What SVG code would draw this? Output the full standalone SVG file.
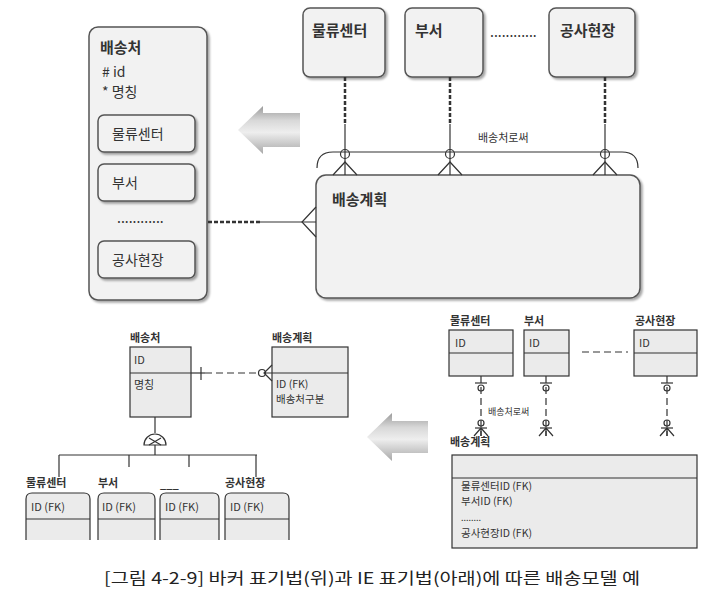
<svg xmlns="http://www.w3.org/2000/svg" width="724" height="593" viewBox="0 0 724 593">
<defs>
<linearGradient id="arr" x1="0" y1="0" x2="0" y2="1">
<stop offset="0" stop-color="#9a9a9a"/>
<stop offset="0.3" stop-color="#d8d8d8"/>
<stop offset="0.55" stop-color="#eeeeee"/>
<stop offset="1" stop-color="#a8a8a8"/>
</linearGradient>
<filter id="sh" x="-10%" y="-10%" width="130%" height="130%">
<feDropShadow dx="2" dy="2" stdDeviation="1.2" flood-color="#000" flood-opacity="0.35"/>
</filter>
<style>
text{font-family:"Noto Sans CJK KR","Noto Sans",sans-serif;fill:#333;}
.bk{fill:#f2f2f2;stroke:#555;stroke-width:1.5;filter:url(#sh);}
.ie{fill:#ebebeb;stroke:#333;stroke-width:1.2;}
.ln{stroke:#333;stroke-width:1.2;fill:none;}
.dl{stroke:#333;stroke-width:2.5;fill:none;stroke-dasharray:4 2;}
.dl2{stroke:#333;stroke-width:1.2;fill:none;stroke-dasharray:7 4;}
.t1{font-size:15px;font-weight:bold;}
.t2{font-size:14px;}
.t3{font-size:11px;}
.t5{font-size:10.5px;}
.t4{font-size:11px;font-weight:bold;}
</style>
</defs>

<!-- Top: Barker notation -->
<g id="barker-baesongcheo">
<rect class="bk" x="89" y="27" width="118" height="273" rx="9"/>
<text class="t1" x="100" y="53">배송처</text>
<text class="t2" x="102" y="77"># id</text>
<text class="t2" x="102" y="97">* 명칭</text>
<rect class="bk" x="98" y="115" width="97" height="37" rx="6"/>
<text class="t2" x="112" y="139">물류센터</text>
<rect class="bk" x="98" y="164" width="97" height="37" rx="6"/>
<text class="t2" x="112" y="188">부서</text>
<text class="t2" x="117" y="223">............</text>
<rect class="bk" x="98" y="241" width="97" height="37" rx="6"/>
<text class="t2" x="112" y="265">공사현장</text>
</g>

<g id="barker-arrow">
<path d="M300,113 L263,113 L263,106 L238,130 L263,154 L263,147 L300,147 Z" fill="url(#arr)"/>
</g>

<g id="barker-mulryu">
<rect class="bk" x="303" y="8" width="82" height="69" rx="7"/>
<text class="t1" x="312" y="36">물류센터</text>
</g>
<g id="barker-buseo">
<rect class="bk" x="405" y="8" width="78" height="69" rx="7"/>
<text class="t1" x="415" y="36">부서</text>
</g>
<text class="t2" x="490" y="37">............</text>
<g id="barker-gongsa">
<rect class="bk" x="549" y="8" width="86" height="69" rx="7"/>
<text class="t1" x="560" y="36">공사현장</text>
</g>

<g id="barker-baesonggyehoek">
<rect class="bk" x="316" y="175" width="324" height="123" rx="10"/>
<text class="t1" x="332" y="205">배송계획</text>
</g>

<g id="barker-connectors">
<line class="dl" x1="208" y1="222" x2="260" y2="222"/>
<line class="ln" x1="260" y1="222" x2="316" y2="222"/>
<path class="ln" d="M316,207 L302,222 L316,237"/>
<path class="ln" d="M317,168 Q317,152 333,152 L622,152 Q638,152 638,168"/>
<text class="t3" x="478" y="142">배송처로써</text>
<line class="dl" x1="345" y1="77" x2="345" y2="124"/>
<line class="ln" x1="345" y1="124" x2="345" y2="175"/>
<circle class="ln" cx="345" cy="154" r="4.5" fill="#fff"/>
<path class="ln" d="M333,175 L345,162 L357,175"/>
<line class="dl" x1="450" y1="77" x2="450" y2="124"/>
<line class="ln" x1="450" y1="124" x2="450" y2="175"/>
<circle class="ln" cx="450" cy="154" r="4.5" fill="#fff"/>
<path class="ln" d="M438,175 L450,162 L462,175"/>
<line class="dl" x1="605" y1="77" x2="605" y2="124"/>
<line class="ln" x1="605" y1="124" x2="605" y2="175"/>
<circle class="ln" cx="605" cy="154" r="4.5" fill="#fff"/>
<path class="ln" d="M593,175 L605,162 L617,175"/>
</g>

<!-- Bottom left: IE -->
<g id="ie-baesongcheo">
<text class="t4" x="130" y="342">배송처</text>
<rect class="ie" x="130" y="347" width="61" height="70"/>
<line class="ln" x1="130" y1="373" x2="191" y2="373"/>
<text class="t3" x="134" y="364">ID</text>
<text class="t3" x="134" y="389">명칭</text>
</g>
<g id="ie-baesonggyehoek-left">
<text class="t4" x="272" y="342">배송계획</text>
<rect class="ie" x="272" y="347" width="76" height="70"/>
<line class="ln" x1="272" y1="373" x2="348" y2="373"/>
<text class="t5" x="276" y="388">ID (FK)</text>
<text class="t5" x="276" y="403">배송처구분</text>
</g>
<g id="ie-left-connectors">
<line class="ln" x1="191" y1="373" x2="205" y2="373"/>
<line class="ln" x1="201" y1="367" x2="201" y2="380"/>
<line class="dl2" x1="205" y1="373" x2="259" y2="373"/>
<circle class="ln" cx="262" cy="373" r="3.5" fill="#fff"/>
<path class="ln" d="M272,365 L264,373 L272,381 M265,373 L272,373"/>
<line class="ln" x1="155" y1="417" x2="155" y2="433"/>
<path class="ln" d="M144,445 A11,11 0 0 1 166,445 Z" fill="#fff"/>
<path class="ln" d="M149,438 L161,445 M161,438 L149,445"/>
<line class="ln" x1="155" y1="445" x2="155" y2="455"/>
<line class="ln" x1="59" y1="455" x2="257" y2="455"/>
<line class="ln" x1="59" y1="455" x2="59" y2="477"/>
<line class="ln" x1="129" y1="455" x2="129" y2="467"/>
<line class="ln" x1="189" y1="455" x2="189" y2="467"/>
<line class="ln" x1="256" y1="455" x2="256" y2="477"/>
</g>
<g id="ie-sub-mulryu">
<text class="t4" x="26" y="487">물류센터</text>
<path class="ie" d="M26,540 L26,499 Q26,493 32,493 L84,493 Q90,493 90,499 L90,540"/>
<line class="ln" x1="26" y1="519" x2="90" y2="519"/>
<text class="t3" x="31" y="511">ID (FK)</text>
</g>
<g id="ie-sub-buseo">
<text class="t4" x="98" y="487">부서</text>
<path class="ie" d="M98,540 L98,499 Q98,493 104,493 L149,493 Q155,493 155,499 L155,540"/>
<line class="ln" x1="98" y1="519" x2="155" y2="519"/>
<text class="t3" x="102" y="511">ID (FK)</text>
</g>
<g id="ie-sub-etc">
<text class="t4" x="160" y="488">___</text>
<path class="ie" d="M160,540 L160,499 Q160,493 166,493 L213,493 Q219,493 219,499 L219,540"/>
<line class="ln" x1="160" y1="519" x2="219" y2="519"/>
<text class="t3" x="165" y="511">ID (FK)</text>
</g>
<g id="ie-sub-gongsa">
<text class="t4" x="225" y="487">공사현장</text>
<path class="ie" d="M225,540 L225,499 Q225,493 231,493 L283,493 Q289,493 289,499 L289,540"/>
<line class="ln" x1="225" y1="519" x2="289" y2="519"/>
<text class="t3" x="230" y="511">ID (FK)</text>
</g>

<!-- Bottom right: IE -->
<g id="ie-arrow">
<path d="M428,421 L392,421 L392,413 L367,437 L392,461 L392,453 L428,453 Z" fill="url(#arr)"/>
</g>
<g id="ie-mulryu">
<text class="t4" x="450" y="325">물류센터</text>
<rect class="ie" x="449" y="330" width="64" height="46"/>
<line class="ln" x1="449" y1="353" x2="513" y2="353"/>
<text class="t3" x="455" y="347">ID</text>
</g>
<g id="ie-buseo">
<text class="t4" x="524" y="325">부서</text>
<rect class="ie" x="524" y="330" width="45" height="46"/>
<line class="ln" x1="524" y1="353" x2="569" y2="353"/>
<text class="t3" x="529" y="347">ID</text>
</g>
<line class="dl2" x1="582" y1="352" x2="628" y2="352" stroke-dasharray="6 4"/>
<g id="ie-gongsa">
<text class="t4" x="635" y="325">공사현장</text>
<rect class="ie" x="634" y="330" width="63" height="46"/>
<line class="ln" x1="634" y1="353" x2="697" y2="353"/>
<text class="t3" x="639" y="347">ID</text>
</g>
<g id="ie-baesonggyehoek">
<text class="t4" x="450" y="446">배송계획</text>
<rect class="ie" x="452" y="455" width="245" height="93"/>
<line class="ln" x1="452" y1="478" x2="697" y2="478"/>
<text class="t5" x="461" y="490">물류센터ID (FK)</text>
<text class="t5" x="461" y="505">부서ID (FK)</text>
<text class="t5" x="461" y="521" style="font-size:9px;">........</text>
<text class="t5" x="461" y="537">공사현장ID (FK)</text>
</g>
<g id="ie-right-connectors">
<g>
<line class="dl2" x1="481" y1="376" x2="481" y2="436" stroke-dasharray="6 3"/>
<line class="ln" x1="475" y1="383" x2="487" y2="383"/>
<circle class="ln" cx="481" cy="388" r="3" fill="#fff"/>
<circle class="ln" cx="481" cy="423" r="3" fill="#fff"/>
<line class="ln" x1="475" y1="428" x2="487" y2="428"/>
<path class="ln" d="M474,436 L481,428 L488,436 M481,428 L481,436"/>
</g>
<g>
<line class="dl2" x1="546" y1="376" x2="546" y2="436" stroke-dasharray="6 3"/>
<line class="ln" x1="540" y1="383" x2="552" y2="383"/>
<circle class="ln" cx="546" cy="388" r="3" fill="#fff"/>
<circle class="ln" cx="546" cy="423" r="3" fill="#fff"/>
<line class="ln" x1="540" y1="428" x2="552" y2="428"/>
<path class="ln" d="M539,436 L546,428 L553,436 M546,428 L546,436"/>
</g>
<g>
<line class="dl2" x1="667" y1="376" x2="667" y2="436" stroke-dasharray="6 3"/>
<line class="ln" x1="661" y1="383" x2="673" y2="383"/>
<circle class="ln" cx="667" cy="388" r="3" fill="#fff"/>
<circle class="ln" cx="667" cy="423" r="3" fill="#fff"/>
<line class="ln" x1="661" y1="428" x2="673" y2="428"/>
<path class="ln" d="M660,436 L667,428 L674,436 M667,428 L667,436"/>
</g>
<text x="488" y="415" style="font-size:9px;">배송처로써</text>
</g>

<text x="104" y="584" textLength="536" lengthAdjust="spacingAndGlyphs" style="font-size:16px;fill:#222;">[그림 4-2-9] 바커 표기법(위)과 IE 표기법(아래)에 따른 배송모델 예</text>
</svg>
